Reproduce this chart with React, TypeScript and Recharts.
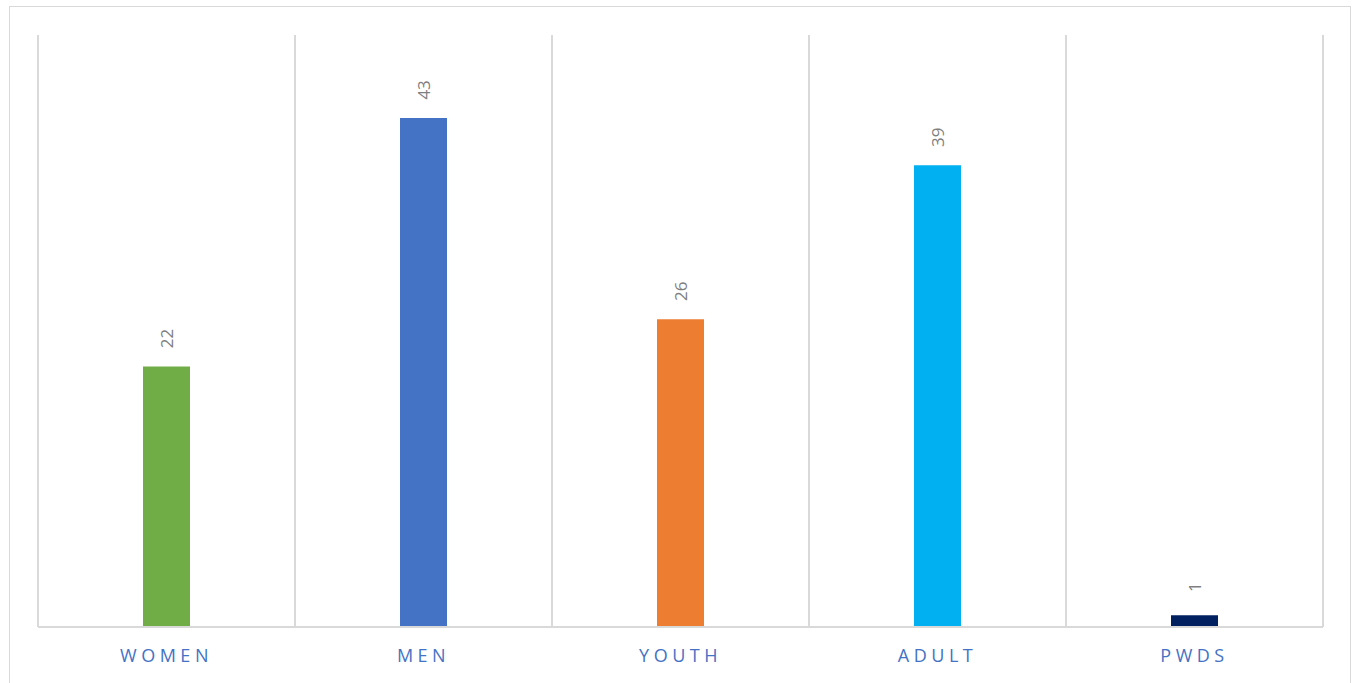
import { BarChart, Bar, XAxis, YAxis, CartesianGrid, Cell, LabelList } from 'recharts';

const categories = ['WOMEN', 'MEN', 'YOUTH', 'ADULT', 'PWDS'];
const counts = [22, 43, 26, 39, 1];
const colors = ['#70ad47', '#4472c4', '#ed7d31', '#00b0f0', '#002060'];

const data = categories.map((name, i) => ({ name, value: counts[i] }));

const RotatedLabel = (props: any) => {
  const { x, y, width, value } = props;
  const cx = x + width / 2;
  const cy = y - 28;
  return (
    <text
      x={cx}
      y={cy}
      transform={`rotate(-90, ${cx}, ${cy})`}
      textAnchor="middle"
      dominantBaseline="central"
      fill="#7f7f7f"
      fontSize={17}
      fontFamily="'Open Sans', sans-serif"
    >
      {value}
    </text>
  );
};

const XTick = (props: any) => {
  const { x, y, payload } = props;
  return (
    <text
      x={x}
      y={y + 27}
      textAnchor="middle"
      fill="#4472c4"
      fontSize={18}
      letterSpacing={4.5}
      fontFamily="'Open Sans', sans-serif"
    >
      {payload.value}
    </text>
  );
};

export default function App() {
  return (
    <div
      style={{
        position: 'absolute',
        left: 9,
        top: 6,
        width: 1340,
        height: 676,
        border: '1px solid #d9d9d9',
        background: '#fff',
      }}
    >
      <BarChart
        width={1340}
        height={670}
        data={data}
        margin={{ top: 28, right: 27, bottom: 20, left: 28 }}
        barSize={47}
      >
        <CartesianGrid
          horizontal={false}
          stroke="#d9d9d9"
          strokeWidth={2}
          verticalCoordinatesGenerator={({ offset }: any) =>
            categories.map((_, i) => offset.left + (i * offset.width) / categories.length).concat(offset.left + offset.width)
          }
        />
        <XAxis
          dataKey="name"
          height={30}
          axisLine={{ stroke: '#d9d9d9', strokeWidth: 2 }}
          tickLine={false}
          tick={<XTick />}
          interval={0}
        />
        <YAxis hide domain={[0, 50]} />
        <Bar dataKey="value" isAnimationActive={false}>
          {data.map((_, i) => (
            <Cell key={i} fill={colors[i]} />
          ))}
          <LabelList dataKey="value" content={<RotatedLabel />} />
        </Bar>
      </BarChart>
    </div>
  );
}
